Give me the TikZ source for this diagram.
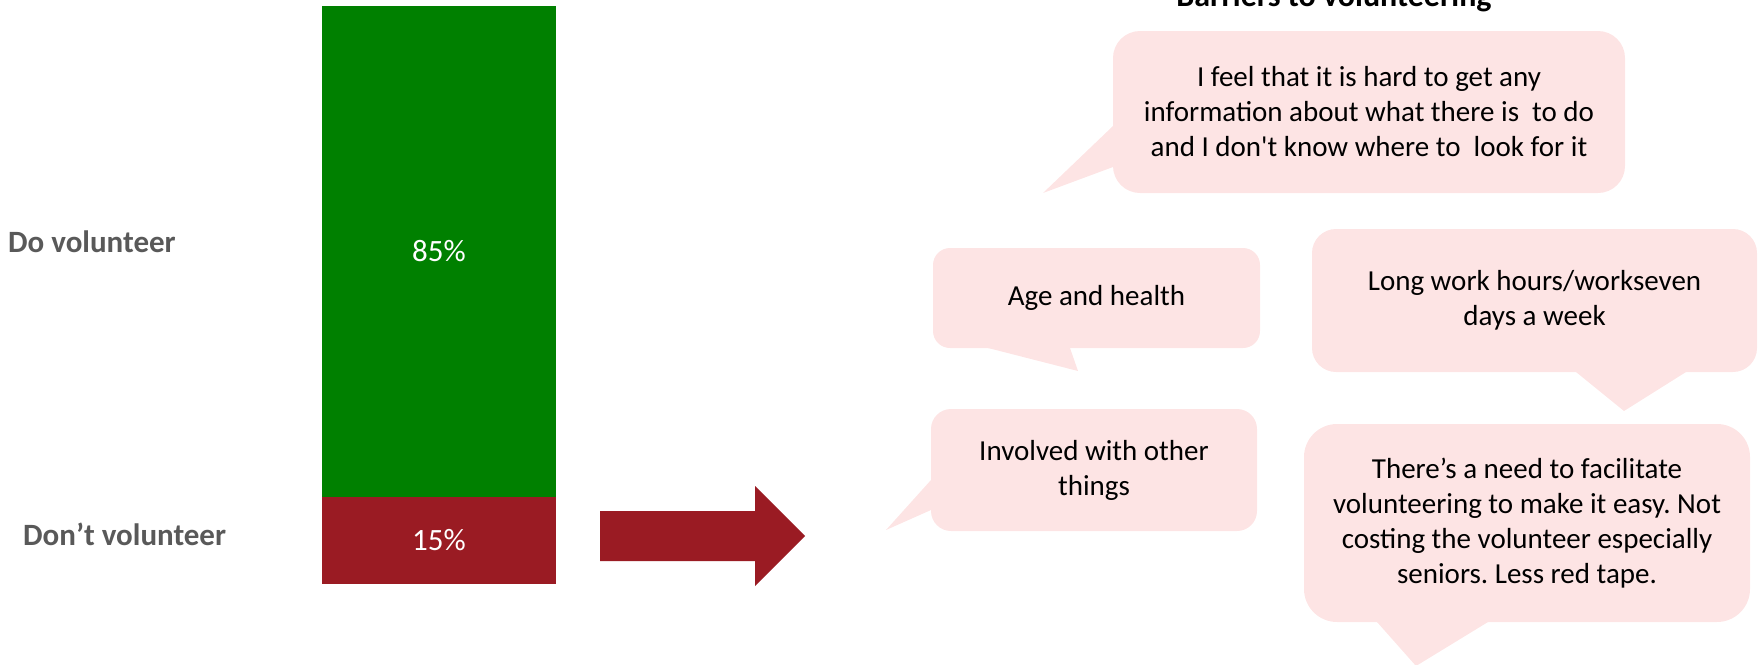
\documentclass[tikz,border=0pt]{standalone}
\usepackage{fontspec}
\setmainfont{Carlito}
\usepackage{tikz}
\definecolor{clrGreen}{RGB}{0,128,0}
\definecolor{clrRed}{RGB}{154,27,35}
\definecolor{clrPink}{RGB}{253,228,228}
\definecolor{clrLbl}{RGB}{89,89,89}
\newcommand{\bubtxt}{\fontsize{29}{35}\selectfont}
\newcommand{\pcttxt}{\fontsize{31}{37}\selectfont}
\newcommand{\lbltxt}{\fontsize{31}{37}\selectfont\bfseries}
\newcommand{\ttltxt}{\fontsize{32}{38}\selectfont\bfseries}
\frenchspacing

\begin{document}
\begin{tikzpicture}[x=1pt,y=-1pt,
  bar/.style={inner sep=0pt,minimum width=234pt,text=white,font=\pcttxt},
  bubble/.style={fill=clrPink,inner sep=0pt,align=center,font=\bubtxt},
  tail/.style={fill=clrPink},
  lbl/.style={anchor=base west,inner sep=0pt,text=clrLbl,font=\lbltxt}]
  \useasboundingbox (0,0) rectangle (1758,664);

  % --- stacked bar ---
  \node[bar,fill=clrGreen,minimum height=491pt] (barDo) at (439,251.5) {85\%};
  \node[bar,fill=clrRed,minimum height=87pt] (barDont) at (439,540.5) {15\%};
  \node[lbl] (lblDo) at (8,252) {Do volunteer};
  \node[lbl] (lblDont) at (23,545) {Don’t volunteer};

  % --- arrow ---
  \fill[clrRed] (600,511) -- (755,511) -- (755,486) -- (805,536)
    -- (755,586) -- (755,561) -- (600,561) -- cycle;

  \node[anchor=base,inner sep=0pt,font=\ttltxt] (title) at (1334,6) {Barriers to volunteering};

  % --- tails ---
  \fill[tail] (1113,126) -- (1043,193) -- (1113,167) -- (1140,167) -- (1140,126) -- cycle;
  \fill[tail] (988,348) -- (1078,371) -- (1070,348) -- (1070,330) -- (988,330) -- cycle;
  \fill[tail] (1576,372) -- (1624,411) -- (1686,372) -- (1686,350) -- (1576,350) -- cycle;
  \fill[tail] (931,480) -- (886,530) -- (931,510) -- (950,510) -- (950,480) -- cycle;
  \fill[tail] (1377,622) -- (1416,666) -- (1488,622) -- (1488,600) -- (1377,600) -- cycle;

  % --- callouts ---
  \node[bubble,minimum width=512pt,minimum height=162pt,rounded corners=27pt] (info) at (1369,112)
    {I feel that it is hard to get any\\information about what there is\ \ to do\\and I don\textquotesingle t know where to\ \ look for it};
  \node[bubble,minimum width=327pt,minimum height=100pt,rounded corners=17pt] (age) at (1096.5,298)
    {Age and health};
  \node[bubble,minimum width=445pt,minimum height=143pt,rounded corners=24pt] (hours) at (1534.5,300.5)
    {Long work hours/workseven\\days a week};
  \node[bubble,minimum width=326pt,minimum height=122pt,rounded corners=20pt] (other) at (1094,470)
    {Involved with other\\things};
  \node[bubble,minimum width=446pt,minimum height=198pt,rounded corners=33pt] (ease) at (1527,523)
    {There’s a need to facilitate\\volunteering to make it easy. Not\\costing the volunteer especially\\seniors. Less red tape.};
\end{tikzpicture}
\end{document}
